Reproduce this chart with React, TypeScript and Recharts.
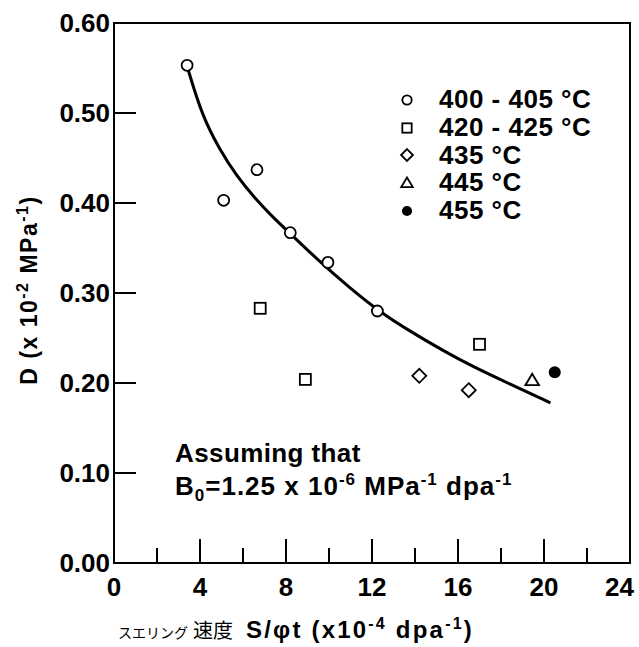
import {
  ComposedChart,
  Legend,
  Line,
  ReferenceArea,
  Scatter,
  XAxis,
  YAxis,
} from "recharts";

// swelling rate (x1e-4 dpa^-1) vs D (x1e-2 MPa^-1)
const circleX = [3.4, 5.1, 6.65, 8.2, 9.95, 12.25];
const circleY = [0.553, 0.403, 0.437, 0.367, 0.334, 0.28];
const squareX = [6.8, 8.9, 17.0];
const squareY = [0.283, 0.204, 0.243];
const diamondX = [14.2, 16.5];
const diamondY = [0.208, 0.192];
const triangleX = [19.45];
const triangleY = [0.203];
const dotX = [20.5];
const dotY = [0.212];

// fitted curve
const curveX = [3.45, 4.1, 4.9, 5.7, 6.6, 7.4, 8.2, 9.6, 11.0, 12.3, 13.8, 15.3, 16.7, 18.4, 20.3];
const curveY = [0.548, 0.497, 0.46, 0.43, 0.404, 0.384, 0.366, 0.334, 0.305, 0.28, 0.257, 0.236, 0.218, 0.199, 0.178];

const xTicks = [0, 2, 4, 6, 8, 10, 12, 14, 16, 18, 20, 22, 24];
const yTicks = [0, 0.1, 0.2, 0.3, 0.4, 0.5, 0.6];

const legendNames = ["400 - 405 °C", "420 - 425 °C", "435 °C", "445 °C", "455 °C"];
const legendShapes = ["circle", "square", "diamond", "triangle", "dot"];

const FONT = '"Liberation Sans", Arial, Helvetica, sans-serif';
const JP = '"Noto Sans CJK JP", sans-serif';

const toPoints = (xs: number[], ys: number[]) => xs.map((x, i) => ({ x, y: ys[i] }));

function Marker({ kind, cx, cy, s = 1 }: { kind: string; cx: number; cy: number; s?: number }) {
  const stroke = { stroke: "#000", strokeWidth: 1.8, fill: "#fff" };
  if (kind === "circle") return <circle cx={cx} cy={cy} r={5.5 * s} {...stroke} />;
  if (kind === "square") {
    const h = 5.5 * s;
    return <rect x={cx - h} y={cy - h} width={h * 2} height={h * 2} {...stroke} />;
  }
  if (kind === "diamond") {
    const h = 7 * s;
    return <polygon points={`${cx},${cy - h} ${cx + h},${cy} ${cx},${cy + h} ${cx - h},${cy}`} {...stroke} />;
  }
  if (kind === "triangle") {
    const h = 6.5 * s;
    return (
      <polygon
        points={`${cx},${cy - h} ${cx + h * 1.05},${cy + h * 0.75} ${cx - h * 1.05},${cy + h * 0.75}`}
        {...stroke}
      />
    );
  }
  return <circle cx={cx} cy={cy} r={6 * s} fill="#000" />;
}

const shapeFor = (kind: string) => (props: any) => <Marker kind={kind} cx={props.cx} cy={props.cy} />;

function XTick({ x, y, payload }: any) {
  const v = payload.value;
  const major = v % 4 === 0;
  const last = v === 24;
  return (
    <g>
      {v > 0 && v < 24 && (
        <line x1={x} x2={x} y1={y} y2={y - (major ? 24 : 15)} stroke="#000" strokeWidth={2} />
      )}
      {major && (
        <text
          x={last ? x + 4 : x}
          y={y + 33}
          textAnchor={last ? "end" : "middle"}
          fontFamily={FONT}
          fontWeight="bold"
          fontSize={26}
          fill="#000"
        >
          {v}
        </text>
      )}
    </g>
  );
}

function YTick({ x, y, payload }: any) {
  const v = payload.value;
  return (
    <g>
      {v > 0 && v < 0.6 && <line x1={x} x2={x + 22} y1={y} y2={y} stroke="#000" strokeWidth={2} />}
      <text x={x - 4} y={y} dy="0.36em" textAnchor="end" fontFamily={FONT} fontWeight="bold" fontSize={26} fill="#000">
        {v.toFixed(2)}
      </text>
    </g>
  );
}

function LegendBox() {
  return (
    <div style={{ fontFamily: FONT, fontWeight: "bold", fontSize: 26, letterSpacing: 0.5 }}>
      {legendNames.map((name, i) => (
        <div key={name} style={{ display: "flex", alignItems: "center", height: 27.7 }}>
          <svg width={24} height={24} style={{ marginRight: 20 }}>
            <Marker kind={legendShapes[i]} cx={12} cy={12} s={0.85} />
          </svg>
          <span>{name}</span>
        </div>
      ))}
    </div>
  );
}

export default function App() {
  return (
    <div style={{ position: "absolute", left: 0, top: 0, background: "#fff" }}>
      <ComposedChart width={639} height={647} margin={{ top: 23, right: 9, bottom: 0, left: 0 }}>
        <XAxis
          type="number"
          dataKey="x"
          domain={[0, 24]}
          ticks={xTicks}
          interval={0}
          height={84}
          tickSize={0}
          tickMargin={0}
          axisLine={false}
          tickLine={false}
          tick={<XTick />}
        />
        <YAxis
          type="number"
          dataKey="y"
          domain={[0, 0.6]}
          ticks={yTicks}
          interval={0}
          width={114}
          tickSize={0}
          tickMargin={0}
          axisLine={false}
          tickLine={false}
          tick={<YTick />}
        />
        <ReferenceArea x1={0} x2={24} y1={0} y2={0.6} fill="none" stroke="#000" strokeWidth={2} fillOpacity={0} />
        <Line
          data={toPoints(curveX, curveY)}
          dataKey="y"
          type="basis"
          stroke="#000"
          strokeWidth={3}
          dot={false}
          activeDot={false}
          isAnimationActive={false}
        />
        <Scatter data={toPoints(circleX, circleY)} dataKey="y" shape={shapeFor("circle")} isAnimationActive={false} />
        <Scatter data={toPoints(squareX, squareY)} dataKey="y" shape={shapeFor("square")} isAnimationActive={false} />
        <Scatter data={toPoints(diamondX, diamondY)} dataKey="y" shape={shapeFor("diamond")} isAnimationActive={false} />
        <Scatter data={toPoints(triangleX, triangleY)} dataKey="y" shape={shapeFor("triangle")} isAnimationActive={false} />
        <Scatter data={toPoints(dotX, dotY)} dataKey="y" shape={shapeFor("dot")} isAnimationActive={false} />
        <Legend
          layout="vertical"
          align="center"
          verticalAlign="middle"
          wrapperStyle={{ left: 395, top: 86, width: 240 }}
          content={() => <LegendBox />}
        />

        <text x={175} y={462} fontFamily={FONT} fontWeight="bold" fontSize={26} letterSpacing={0.4} fill="#000">
          Assuming that
        </text>
        <text x={175} y={495} fontFamily={FONT} fontWeight="bold" fontSize={26} letterSpacing={1} fill="#000">
          B<tspan fontSize={17} dy={6}>0</tspan>
          <tspan dy={-6}>=1.25 x 10</tspan>
          <tspan fontSize={17} dy={-10}>-6</tspan>
          <tspan dy={10}> MPa</tspan>
          <tspan fontSize={17} dy={-10}>-1</tspan>
          <tspan dy={10}> dpa</tspan>
          <tspan fontSize={17} dy={-10}>-1</tspan>
        </text>

        <text
          x={37}
          y={290}
          transform="rotate(-90 37 290)"
          textAnchor="middle"
          fontFamily={FONT}
          fontWeight="bold"
          fontSize={23}
          letterSpacing={1.5}
          fill="#000"
        >
          D (x 10<tspan fontSize={16} dy={-9}>-2</tspan>
          <tspan dy={9}> MPa</tspan>
          <tspan fontSize={16} dy={-9}>-1</tspan>
          <tspan dy={9}>)</tspan>
        </text>

        <text x={118} y={638} fontFamily={FONT} fontWeight="bold" fontSize={24} letterSpacing={2.2} fill="#000">
          <tspan fontFamily={JP} fontWeight="normal" fontSize={14} letterSpacing={0}>
            スエリング
          </tspan>
          <tspan fontFamily={JP} fontWeight="normal" fontSize={20} letterSpacing={0} dx={5}>
            速度
          </tspan>
          <tspan dx={13}>S/φt (x10</tspan>
          <tspan fontSize={16} dy={-9}>-4</tspan>
          <tspan dy={9}> dpa</tspan>
          <tspan fontSize={16} dy={-9}>-1</tspan>
          <tspan dy={9}>)</tspan>
        </text>
      </ComposedChart>
    </div>
  );
}
